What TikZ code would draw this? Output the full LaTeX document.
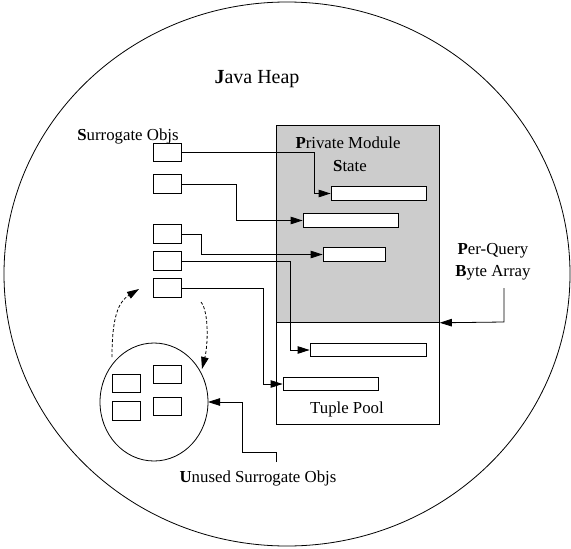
\documentclass[tikz,border=0pt]{standalone}
\usepackage{fontspec}
\setmainfont{Liberation Serif}
\usetikzlibrary{arrows.meta}
\begin{document}
\begin{tikzpicture}[x=1pt,y=-1pt,
  line width=0.8pt,
  lbl/.style={inner sep=0pt, font=\fontsize{16.8}{20}\selectfont},
  sbox/.style={draw, fill=white, minimum width=28pt, minimum height=18.5pt, inner sep=0pt},
  bar/.style={draw, fill=white, minimum height=13.5pt, inner sep=0pt},
  arr/.style={-{Triangle[length=12pt,width=7.5pt]}},
  darr/.style={-{Triangle[length=12pt,width=7.5pt]}, dash pattern=on 3pt off 2pt}]
\useasboundingbox (0,0) rectangle (571,549);
% big heap ellipse
\draw (287,274) ellipse [x radius=283, y radius=272];
% module state and tuple pool boxes
\node[draw, fill=black!20, minimum width=163pt, minimum height=197pt, inner sep=0pt, anchor=north west] (pms) at (276,125) {};
\node[draw, fill=white, minimum width=163pt, minimum height=102pt, inner sep=0pt, anchor=north west] (tp) at (276,322) {};
% labels
\node[inner sep=0pt, font=\fontsize{20}{24}\selectfont] (jh) at (257,79) {\textbf{J}ava Heap};
\node[lbl] (so) at (128,136) {\textbf{S}urrogate Objs};
\node[lbl] (pm1) at (348,143) {\textbf{P}rivate Module};
\node[lbl] (pm2) at (350,166) {\textbf{S}tate};
\node[lbl] (pq1) at (493,251) {\textbf{P}er-Query};
\node[lbl] (pq2) at (493,273) {\textbf{B}yte Array};
\node[lbl] (tpl) at (347,409) {Tuple Pool};
\node[lbl] (us) at (258,478) {\textbf{U}nused Surrogate Objs};
% surrogate boxes
\node[sbox] (s1) at (167,152.5) {};
\node[sbox] (s2) at (167,184) {};
\node[sbox] (s3) at (167,234) {};
\node[sbox] (s4) at (167,261) {};
\node[sbox] (s5) at (167,288) {};
% bars
\node[bar, minimum width=95pt] (b1) at (378.5,193.5) {};
\node[bar, minimum width=95pt] (b2) at (350.5,220.5) {};
\node[bar, minimum width=62pt] (b3) at (354,254.5) {};
\node[bar, minimum width=116pt] (b4) at (368,350) {};
\node[bar, minimum width=95pt] (b5) at (330.5,384) {};
% connectors
\coordinate (k1) at (314,0);
\coordinate (k2) at (236,0);
\coordinate (k3) at (201,0);
\coordinate (k4) at (290,0);
\coordinate (k5) at (263,0);
\draw[arr] (s1.east) -- (s1.east -| k1) |- (b1.west);
\draw[arr] (s2.east) -- (s2.east -| k2) |- (b2.west);
\draw[arr] (s3.east) -- (s3.east -| k3) |- (b3.west);
\draw[arr] (s4.east) -- (s4.east -| k4) |- (b4.west);
\draw[arr] (s5.east) -- (s5.east -| k5) |- (b5.west);
% unused pool circle
\draw (154,402) ellipse [x radius=54, y radius=59];
\coordinate (uc) at (208,402);
\node[sbox] (u1) at (126,383.5) {};
\node[sbox] (u2) at (167,374.5) {};
\node[sbox] (u3) at (126,411) {};
\node[sbox] (u4) at (167,406.5) {};
% per-query arrow
\coordinate (pqs) at (504,288);
\draw[arr] (pqs) -- (504,322) -- (pms.south east);
% unused arrow
\coordinate (uss) at (276,462);
\draw[arr] (uss) -- (276,452) -- (242,452) -- (242,402) -- (uc);
% dashed arrows
\coordinate (d1s) at (112,357);
\coordinate (d1e) at (139,289);
\coordinate (d2s) at (201,302);
\coordinate (d2e) at (202,369);
\draw[darr] (d1s) .. controls (112,318) and (118,302) .. (d1e);
\draw[darr] (d2s) .. controls (209,312) and (208,345) .. (d2e);
\end{tikzpicture}
\end{document}
